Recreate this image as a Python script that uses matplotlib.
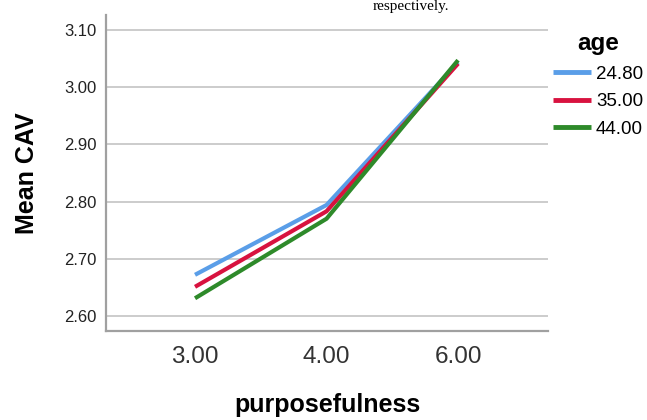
import matplotlib
matplotlib.use("Agg")
import matplotlib.pyplot as plt

plt.rcParams["font.family"] = ["Liberation Sans", "DejaVu Sans"]

categories = ["3.00", "4.00", "6.00"]
age_labels = ["24.80", "35.00", "44.00"]
mean_cav = [
    [2.672, 2.794, 3.043],
    [2.651, 2.783, 3.041],
    [2.631, 2.770, 3.047],
]
colors = ["#5a9ee8", "#d8123f", "#2e8a2a"]
yticks = [2.60, 2.70, 2.80, 2.90, 3.00, 3.10]

fig = plt.figure(figsize=(6.47, 4.2), dpi=100)
W, H = 647, 420
ax = fig.add_axes([106 / W, 1 - 331 / H, 442 / W, 316 / H])

x = range(len(categories))
for vals, lab, c in zip(mean_cav, age_labels, colors):
    ax.plot(x, vals, color=c, lw=3.0, label=lab, solid_capstyle="butt", zorder=3)

ax.set_xlim(-0.677, 2.684)
ax.set_ylim(2.5738, 3.126)
ax.set_yticks(yticks)
ax.set_yticklabels(["%.2f" % v for v in yticks], fontsize=12, color="#222222")
ax.set_xticks(list(x))
ax.set_xticklabels(categories, fontsize=17.5, color="#333333")
ax.tick_params(axis="both", length=0)
ax.tick_params(axis="x", pad=11)
ax.tick_params(axis="y", pad=6.5)
ax.grid(axis="y", color="#c8c8c8", lw=1.3, zorder=0)
for s in ["top", "right"]:
    ax.spines[s].set_visible(False)
for s in ["left", "bottom"]:
    ax.spines[s].set_color("#a0a0a0")
    ax.spines[s].set_linewidth(1.6)

ax.set_ylabel("Mean CAV", fontsize=18, fontweight="bold", labelpad=18)
ax.set_xlabel("purposefulness", fontsize=18, fontweight="bold", labelpad=18)

leg = ax.legend(loc="upper left", bbox_to_anchor=(1.011, 0.945), frameon=False,
                title="age", title_fontproperties={"weight": "bold", "size": 17.5},
                fontsize=13.5, handlelength=2.05, handletextpad=0.25,
                labelspacing=0.55, borderaxespad=0.0, borderpad=0.0)
for h in leg.get_lines():
    h.set_linewidth(3.5)

fig.text(0.635, 1.0, "respectively.", family="Liberation Serif", fontsize=11,
         ha="center", va="top")

fig.savefig("out.png", dpi=100)
